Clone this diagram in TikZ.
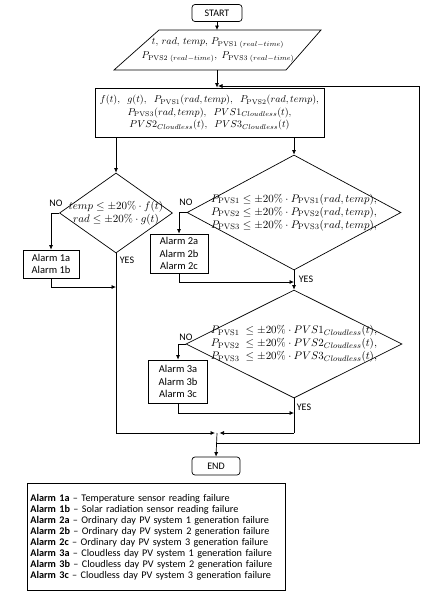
\documentclass[tikz,border=0pt]{standalone}
\usepackage[no-math]{fontspec}
\setmainfont{Carlito}
\usetikzlibrary{arrows.meta,shapes.geometric}
\tikzset{
  ln/.style={line width=0.7pt},
  arr/.style={ln,-{Latex[length=4.5pt,width=4pt]}},
  term/.style={draw,ln,rounded corners=3pt,inner sep=0pt,font=\fontsize{10}{11}\selectfont},
  proc/.style={draw,ln,inner sep=0pt,align=center,font=\fontsize{10.2}{12.5}\selectfont},
  alarm/.style={draw,ln,inner sep=0pt,align=center,font=\fontsize{10.5}{12.5}\selectfont},
  dec/.style={draw,ln,diamond,inner sep=0pt},
  mtext/.style={align=center,inner sep=0pt,font=\fontsize{10}{12.5}\selectfont},
  dtext/.style={align=center,inner sep=0pt,font=\fontsize{10.8}{13}\selectfont},
  lbl/.style={inner sep=0pt,font=\fontsize{10}{11}\selectfont},
}
\begin{document}
\begin{tikzpicture}[x=1pt,y=-1pt]
\useasboundingbox (0,0) rectangle (428,595);
% start
\node[term,minimum width=50pt,minimum height=17pt] (start) at (217,13) {START};
% input parallelogram
\coordinate (inTL) at (159,30);
\coordinate (inTR) at (321,30);
\coordinate (inBR) at (286,70);
\coordinate (inBL) at (114,70);
\draw[ln] (inTL) -- (inTR) -- (inBR) -- (inBL) -- cycle;
\coordinate (inTop) at (217,30);
\coordinate (inBot) at (217,70);
\node[mtext] (inp) at (218,50) {$t,\,rad,\,temp,\,P_{\mathrm{PVS1}\;(real-time)}$\\[1pt]$P_{\mathrm{PVS2}\;(real-time)},\;P_{\mathrm{PVS3}\;(real-time)}$};
% process box
\node[proc,minimum width=229pt,minimum height=49pt] (proc) at (209.5,112.5) {$f(t),\;\;g(t),\;\;P_{\mathrm{PVS1}}(rad,temp),\;\;P_{\mathrm{PVS2}}(rad,temp),$\\$P_{\mathrm{PVS3}}(rad,temp),\;\;PVS1_{Cloudless}(t),$\\$PVS2_{Cloudless}(t),\;\;PVS3_{Cloudless}(t)$};
% decisions
\node[dec,minimum width=113pt,minimum height=80pt] (d1) at (116,213) {};
\node[dtext] (t1) at (116,213) {$temp\leq\pm20\%\cdot f(t)$\\$rad\leq\pm20\%\cdot g(t)$};
\node[dec,minimum width=214pt,minimum height=115pt] (d2) at (294,212.5) {};
\node[dtext] (t2) at (294,212.5) {$P_{\mathrm{PVS1}}\leq\pm20\%\cdot P_{\mathrm{PVS1}}(rad,temp),$\\$P_{\mathrm{PVS2}}\leq\pm20\%\cdot P_{\mathrm{PVS2}}(rad,temp),$\\$P_{\mathrm{PVS3}}\leq\pm20\%\cdot P_{\mathrm{PVS3}}(rad,temp),$};
\node[dec,minimum width=216pt,minimum height=108pt] (d3) at (294,344) {};
\node[dtext] (t3) at (294,344) {$P_{\mathrm{PVS1}}\;\leq\pm20\%\cdot PVS1_{Cloudless}(t),$\\$P_{\mathrm{PVS2}}\;\leq\pm20\%\cdot PVS2_{Cloudless}(t),$\\$P_{\mathrm{PVS3}}\;\leq\pm20\%\cdot PVS3_{Cloudless}(t),$};
% alarms
\node[alarm,minimum width=56pt,minimum height=28pt] (a1) at (51,264) {Alarm 1a\\Alarm 1b};
\node[alarm,minimum width=58pt,minimum height=39pt] (a2) at (179,253.5) {Alarm 2a\\Alarm 2b\\Alarm 2c};
\node[alarm,minimum width=59pt,minimum height=43pt] (a3) at (178,381.5) {Alarm 3a\\Alarm 3b\\Alarm 3c};
% end
\node[term,minimum width=48pt,minimum height=18pt] (end) at (216,466) {END};
% labels
\node[lbl] (no1) at (56,203) {NO};
\node[lbl] (yes1) at (127,260) {YES};
\node[lbl] (no2) at (186,202) {NO};
\node[lbl] (yes2) at (306,279) {YES};
\node[lbl] (no3) at (186,337) {NO};
\node[lbl] (yes3) at (304,407) {YES};
% coordinates
\coordinate (p1) at (116,137);
\coordinate (p2) at (294,137);
\coordinate (j1) at (116,287);
\coordinate (j2) at (294,282);
\coordinate (j3) at (294,413);
\coordinate (bl) at (116,433);
\coordinate (br) at (294,433);
\coordinate (jc) at (217,433);
\coordinate (jcl) at (215,433);
\coordinate (jcr) at (219.5,433);
\coordinate (fb0) at (217,443);
\coordinate (fb1) at (419,443);
\coordinate (fb2) at (419,86);
\coordinate (fb3) at (218,86);
% connectors
\draw[arr] (start) -- (inTop);
\draw[arr] (inBot) -- (proc.north -| inBot);
\draw[arr] (p1) -- (d1.north);
\draw[arr] (p2) -- (d2.north);
\draw[arr] (d1.west) -| (a1.north);
\draw[arr] (a1.south) |- (j1);
\draw[ln] (d1.south) -- (bl);
\draw[arr] (bl) -- (jcl);
\draw[arr] (d2.west) -| (a2.north);
\draw[arr] (a2.south) |- (j2);
\draw[arr] (d2.south) -- (d3.north);
\draw[arr] (d3.west) -| (a3.north);
\draw[arr] (a3.south) |- (j3);
\draw[ln] (d3.south) -- (br);
\draw[arr] (br) -- (jcr);
\draw[arr] (jc) -- (end.north);
\draw[arr] (fb0) -- (fb1) -- (fb2) -- (fb3);
% legend
\node[draw,ln,anchor=north west,minimum width=258pt,minimum height=107pt,text width=252pt,inner sep=3pt,align=left,font=\fontsize{10.2}{11}\selectfont] (legend) at (27,483) {%
\textbf{Alarm 1a} -- Temperature sensor reading failure\\
\textbf{Alarm 1b} -- Solar radiation sensor reading failure\\
\textbf{Alarm 2a} -- Ordinary day PV system 1 generation failure\\
\textbf{Alarm 2b} -- Ordinary day PV system 2 generation failure\\
\textbf{Alarm 2c} -- Ordinary day PV system 3 generation failure\\
\textbf{Alarm 3a} -- Cloudless day PV system 1 generation failure\\
\textbf{Alarm 3b} -- Cloudless day PV system 2 generation failure\\
\textbf{Alarm 3c} -- Cloudless day PV system 3 generation failure};
\end{tikzpicture}
\end{document}
